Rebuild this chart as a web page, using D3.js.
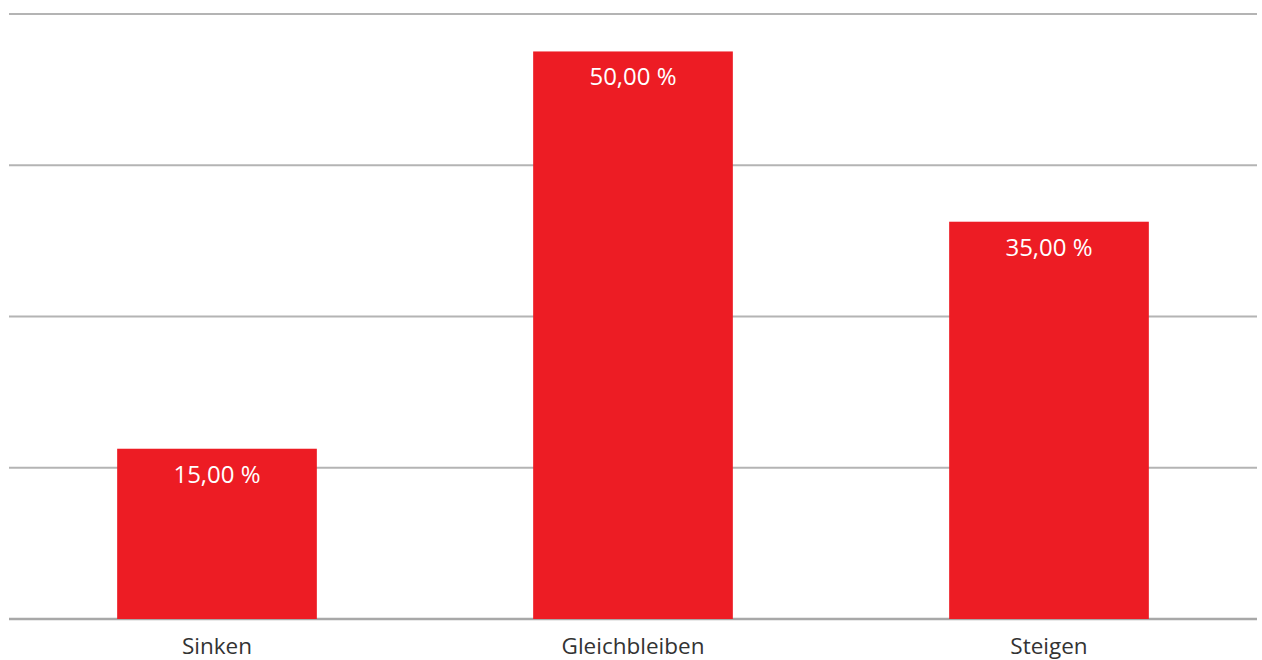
<!DOCTYPE html>
<html>
<head>
<meta charset="utf-8">
<script src="https://cdn.jsdelivr.net/npm/d3@7/dist/d3.min.js"></script>
<style>
  html, body { margin: 0; padding: 0; background: #fff; }
  svg { display: block; }
</style>
</head>
<body>
<svg id="chart" width="1262" height="660"></svg>
<script>
const categories = ["Sinken", "Gleichbleiben", "Steigen"];
const values = [15, 50, 35];
const valueLabels = ["15,00 %", "50,00 %", "35,00 %"];
const yMax = 53.3;
const gridCount = 4;

const svg = d3.select("#chart");
const plotLeft = 9, plotRight = 1257, plotTop = 14, plotBottom = 619;

const x = d3.scaleBand().domain(categories).range([plotLeft, plotRight])
  .paddingInner(0.52).paddingOuter(0.26);
const y = d3.scaleLinear().domain([0, yMax]).range([plotBottom, plotTop]);

const gridTicks = d3.range(gridCount + 1).map(i => yMax * i / gridCount);

svg.append("g").selectAll("line").data(gridTicks).join("line")
  .attr("x1", plotLeft).attr("x2", plotRight)
  .attr("y1", d => y(d)).attr("y2", d => y(d))
  .attr("stroke", d => d === 0 ? "#a8a8a8" : "#b4b4b4")
  .attr("stroke-width", d => d === 0 ? 2.5 : 2);

svg.append("g").selectAll("rect").data(values).join("rect")
  .attr("x", (d, i) => x(categories[i]))
  .attr("width", x.bandwidth())
  .attr("y", d => y(d))
  .attr("height", d => y(0) - y(d))
  .attr("fill", "#ed1c24");

svg.append("g").selectAll("text").data(values).join("text")
  .attr("x", (d, i) => x(categories[i]) + x.bandwidth() / 2)
  .attr("y", d => y(d) + 34)
  .attr("text-anchor", "middle")
  .attr("font-family", "'Open Sans', sans-serif")
  .attr("font-size", 24)
  .attr("font-weight", 500)
  .attr("fill", "#ffffff")
  .text((d, i) => valueLabels[i]);

svg.append("g").selectAll("text").data(categories).join("text")
  .attr("x", d => x(d) + x.bandwidth() / 2)
  .attr("y", 654)
  .attr("text-anchor", "middle")
  .attr("font-family", "'Open Sans', sans-serif")
  .attr("font-size", 22.5)
  .attr("fill", "#333333")
  .text(d => d);
</script>
</body>
</html>
